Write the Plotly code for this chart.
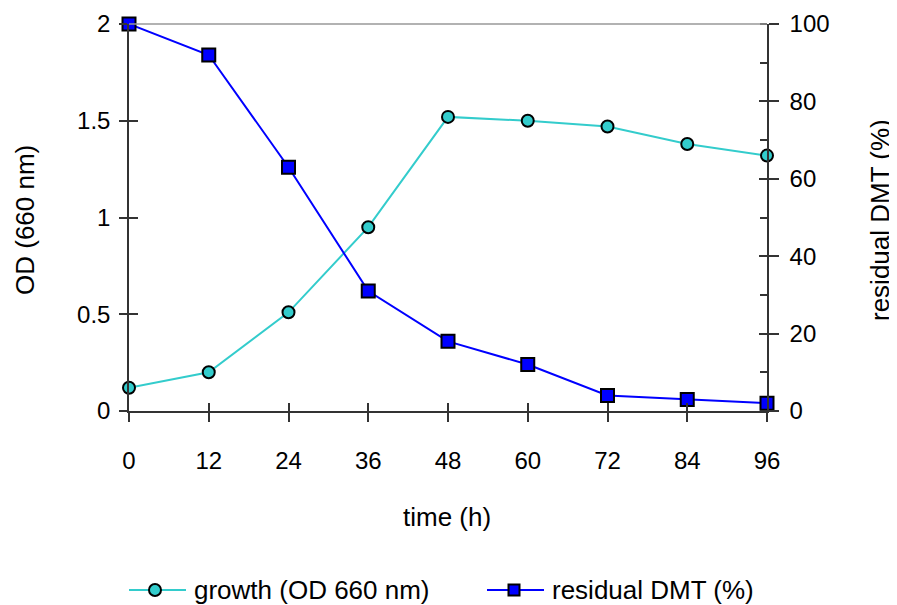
import plotly.graph_objects as go

time_h = [0, 12, 24, 36, 48, 60, 72, 84, 96]
growth_od = [0.12, 0.20, 0.51, 0.95, 1.52, 1.50, 1.47, 1.38, 1.32]
residual_dmt = [100, 92, 63, 31, 18, 12, 4, 3, 2]

x_ticks = [0, 12, 24, 36, 48, 60, 72, 84, 96]
y_left_ticks = [0, 0.5, 1, 1.5, 2]
y_left_text = ["0", "0.5", "1", "1.5", "2"]
y_right_ticks = [0, 20, 40, 60, 80, 100]

series_names = ["growth (OD 660 nm)", "residual DMT (%)"]

FONT = "Liberation Sans, Arial, Helvetica, sans-serif"
AX = "#333333"
CYAN = "#33CCCC"
BLUE = "#0000FF"

# the page body adds an 8px offset; compensate so the plot lands where the reference has it
OFF = 8
L, R, T, B, W, H = 129 - OFF, 130, 24 - OFF, 194, 897 - OFF, 605 - OFF
PW, PH = W - L - R, H - T - B
def px(x):
    return (x - OFF - L) / PW
def py(y):
    return (H - B - (y - OFF)) / PH

fig = go.Figure()
fig.add_trace(go.Scatter(
    x=time_h, y=growth_od, name=series_names[0], mode="lines+markers",
    line=dict(color=CYAN, width=2),
    marker=dict(symbol="circle", size=12, color=CYAN, line=dict(color="black", width=2)),
    cliponaxis=False, xaxis="x", yaxis="y", showlegend=False))
fig.add_trace(go.Scatter(
    x=time_h, y=residual_dmt, name=series_names[1], mode="lines+markers",
    line=dict(color=BLUE, width=2),
    marker=dict(symbol="square", size=13, color=BLUE, line=dict(color="black", width=2)),
    cliponaxis=False, xaxis="x", yaxis="y2", showlegend=False))
# empty helper traces so overlay axes (inner tick halves) are drawn
for xa, ya in [("x3", "y"), ("x", "y3"), ("x", "y4")]:
    fig.add_trace(go.Scatter(x=[], y=[], xaxis=xa, yaxis=ya, showlegend=False, hoverinfo="skip"))

tickfont = dict(family=FONT, size=24, color="black")
labfont = dict(family=FONT, size=26, color="black")

# manual legend (key line + marker + text)
leg_y = 590
shapes = [dict(type="line", xref="paper", yref="paper", x0=0, x1=1, y0=1, y1=1,
               line=dict(color="#999999", width=1.5))]
legend_items = [
    (129, 186, 155, "circle", CYAN, 192),
    (487, 544, 514, "rect", BLUE, 550),
]
annotations = []
for (x0, x1, xc, kind, col, xt), name in zip(legend_items, series_names):
    shapes.append(dict(type="line", xref="paper", yref="paper", x0=px(x0), x1=px(x1),
                       y0=py(leg_y), y1=py(leg_y), line=dict(color=col, width=2)))
    s = 6 if kind == "circle" else 5.5
    shapes.append(dict(type=kind, xref="paper", yref="paper", xsizemode="pixel",
                       ysizemode="pixel", xanchor=px(xc), yanchor=py(leg_y),
                       x0=-s, x1=s, y0=-s, y1=s, fillcolor=col,
                       line=dict(color="black", width=2)))
    annotations.append(dict(text=name, xref="paper", yref="paper", x=px(xt), y=py(leg_y),
                            xanchor="left", yanchor="middle", showarrow=False, font=labfont))

annotations += [
    dict(text="time (h)", xref="paper", yref="paper", x=px(447), y=py(517), showarrow=False,
         xanchor="center", yanchor="middle", font=labfont),
    dict(text="OD (660 nm)", xref="paper", yref="paper", x=px(25), y=py(220), showarrow=False,
         textangle=-90, xanchor="center", yanchor="middle", font=labfont),
    dict(text="residual DMT (%)", xref="paper", yref="paper", x=px(880), y=py(220),
         showarrow=False, textangle=-90, xanchor="center", yanchor="middle", font=labfont),
]

fig.update_layout(
    width=W, height=H,
    margin=dict(l=L, r=R, t=T, b=B, autoexpand=False),
    paper_bgcolor="white", plot_bgcolor="white",
    font=dict(family=FONT, size=24, color="black"),
    showlegend=False,
    xaxis=dict(range=[0, 96], tickvals=x_ticks, ticks="outside", ticklen=9, tickwidth=1.5,
               tickcolor=AX, showline=True, linecolor=AX, linewidth=1.5, showgrid=False,
               zeroline=False, tickfont=tickfont, ticklabelstandoff=18),
    xaxis3=dict(range=[0, 96], overlaying="x", anchor="y", tickvals=x_ticks, ticks="inside",
                ticklen=8, tickwidth=1.5, tickcolor=AX, showline=False, showgrid=False,
                zeroline=False, showticklabels=False),
    yaxis=dict(range=[0, 2], tickvals=y_left_ticks, ticktext=y_left_text, ticks="outside",
               ticklen=8, tickwidth=1.5, tickcolor=AX, showline=True, linecolor=AX,
               linewidth=1.5, showgrid=False, zeroline=False, tickfont=tickfont,
               ticklabelstandoff=4),
    yaxis3=dict(range=[0, 2], overlaying="y", side="left", anchor="x", tickvals=y_left_ticks,
                ticks="inside", ticklen=9, tickwidth=1.5, tickcolor=AX, showline=False,
                showgrid=False, zeroline=False, showticklabels=False),
    yaxis2=dict(range=[0, 100], overlaying="y", side="right", anchor="x", tickvals=y_right_ticks,
                ticks="outside", ticklen=10, tickwidth=1.5, tickcolor=AX, showline=True,
                linecolor=AX, linewidth=1.5, showgrid=False, zeroline=False, tickfont=tickfont,
                ticklabelstandoff=6,
                minor=dict(dtick=10, tick0=0, ticks="inside", ticklen=7, tickwidth=1.5,
                           tickcolor=AX, showgrid=False)),
    yaxis4=dict(range=[0, 100], overlaying="y", side="right", anchor="x", tickvals=y_right_ticks,
                ticks="inside", ticklen=8, tickwidth=1.5, tickcolor=AX, showline=False,
                showgrid=False, zeroline=False, showticklabels=False),
    shapes=shapes,
    annotations=annotations,
)
fig.write_html("out.html")
